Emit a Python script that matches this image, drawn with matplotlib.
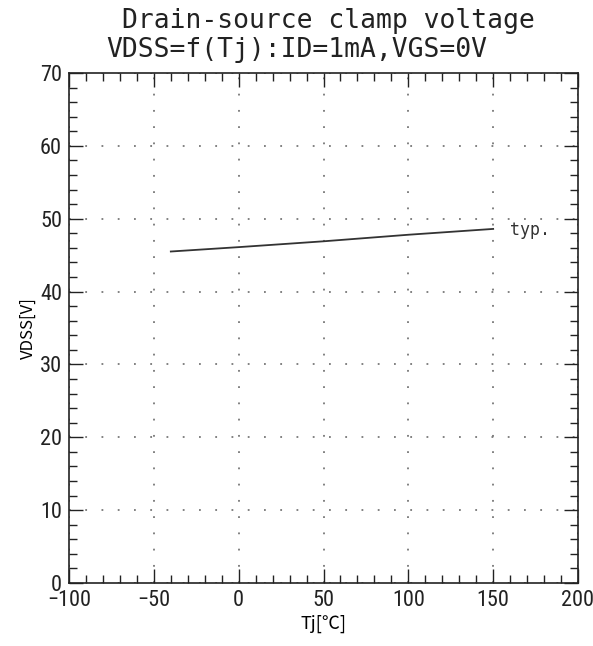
import numpy as np
import matplotlib.pyplot as plt
from matplotlib.ticker import MultipleLocator

tj = [-40, 0, 50, 100, 150]
vdss = [45.5, 46.1, 46.9, 47.8, 48.6]

title_lines = ['Drain-source clamp voltage', 'VDSS=f(Tj):ID=1mA,VGS=0V']

plt.rcParams['font.family'] = ['Roboto Condensed', 'DejaVu Sans']

fig = plt.figure(figsize=(5.93, 6.46), dpi=100)
ax = fig.add_axes([0.1164, 0.0975, 0.8583, 0.7895])

ax.plot(tj, vdss, color='#333333', lw=1.3)
ax.text(tj[-1] + 10, vdss[-1] - 0.1, 'typ.', fontsize=12, color='#333333',
        family=['DejaVu Sans Mono'], va='center')

ax.set_xlim(-100, 200)
ax.set_ylim(0, 70)
ax.xaxis.set_major_locator(MultipleLocator(50))
ax.xaxis.set_minor_locator(MultipleLocator(10))
ax.yaxis.set_major_locator(MultipleLocator(10))
ax.yaxis.set_minor_locator(MultipleLocator(2))
ax.tick_params(which='both', direction='in', top=True, right=True, labelsize=16, colors='#222222')
ax.tick_params(which='major', length=10, width=1)
ax.tick_params(which='minor', length=6, width=1)
ax.tick_params(axis='y', pad=5)
ax.tick_params(axis='x', pad=5)
ax.grid(True, which='major', ls=(0, (1, 8)), color='#777777', lw=1.3)
for s in ax.spines.values():
    s.set_linewidth(1.2)
    s.set_color('#222222')

ax.set_xlabel('Tj[℃]', fontsize=13, family=['Noto Sans CJK JP', 'DejaVu Sans'], labelpad=3)
ax.set_ylabel('VDSS[V]', fontsize=12, family=['Noto Sans CJK JP', 'DejaVu Sans'], labelpad=2)

fig.text(0.553, 0.967, title_lines[0], ha='center', va='center', fontsize=19,
         family=['DejaVu Sans Mono'], color='#222222')
fig.text(0.5, 0.922, title_lines[1], ha='center', va='center', fontsize=19,
         family=['DejaVu Sans Mono'], color='#222222')

fig.savefig('out.png', dpi=100)
